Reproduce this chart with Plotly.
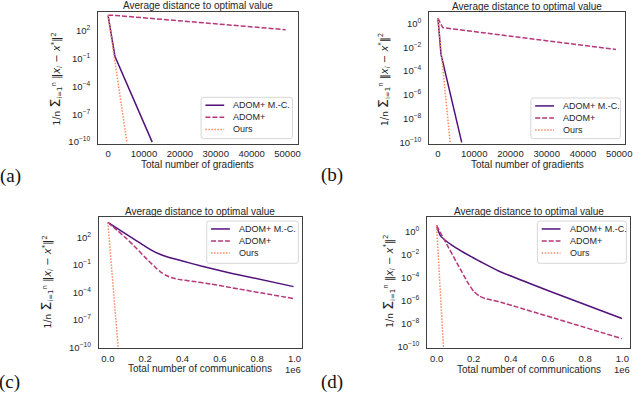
import plotly.graph_objects as go

W, H = 640, 395

# ---------------- data ----------------
series_names = ["ADOM+ M.-C.", "ADOM+", "Ours"]

# (a) gradients
a_mc_x = [0, 1900, 12300]
a_mc_y = [5.0e3, 0.19, 1e-10]
a_adom_x = [0, 1570, 49500]
a_adom_y = [5.0e3, 5.0e3, 140]
a_ours_x = [0, 5240]
a_ours_y = [5.0e3, 1e-10]

# (b) gradients
b_mc_x = [0, 850, 6550]
b_mc_y = [2.8, 2.5e-3, 1e-10]
b_adom_x = [0, 1300, 49100]
b_adom_y = [2.8, 0.45, 6.5e-3]
b_ours_x = [0, 3360]
b_ours_y = [2.8, 1e-10]

# (c) communications
c_mc_x = [0, 50000, 100000, 150000, 200000, 250000, 300000, 350000, 400000,
          500000, 660000, 995000]
c_mc_y = [4.0e3, 891, 200, 44.7, 10, 2.5, 0.955, 0.468, 0.251,
          0.0708, 0.012, 4.07e-4]
c_adom_x = [0, 50000, 100000, 150000, 200000, 250000, 280000, 310000, 340000,
            380000, 450000, 550000, 660000, 995000]
c_adom_y = [4.0e3, 562, 70.8, 7.08, 0.631, 0.063, 0.0178, 7.08e-3, 3.98e-3,
            2.51e-3, 1.58e-3, 7.94e-4, 3.16e-4, 2.04e-5]
c_ours_x = [0, 55000]
c_ours_y = [4.0e3, 1e-10]

# (d) communications
d_mc_x = [0, 21000, 62000, 107000, 151000, 195000, 240000, 337000, 595000, 998000]
d_mc_y = [3.2, 0.4, 0.107, 0.035, 0.0132, 5.4e-3, 2.2e-3, 3.5e-4, 7.9e-6, 2.8e-8]
d_adom_x = [0, 170000, 200000, 230000, 260000, 300000, 346000, 998000]
d_adom_y = [3.2, 3.2e-5, 6.3e-6, 2.5e-6, 1.5e-6, 1.07e-6, 7.1e-7, 5.0e-10]
d_ours_x = [0, 37000]
d_ours_y = [3.2, 1e-10]

grad_ticks = [0, 10000, 20000, 30000, 40000, 50000]
grad_ticktext = ["0", "10000", "20000", "30000", "40000", "50000"]
comm_ticks = [0, 200000, 400000, 600000, 800000, 1000000]
comm_ticktext = ["0.0", "0.2", "0.4", "0.6", "0.8", "1.0"]

ytick_a = [-10, -7, -4, -1, 2]
ytick_b = [-10, -8, -6, -4, -2, 0]

title_text = "Average distance to optimal value"
xlabel_grad = "Total number of gradients"
xlabel_comm = "Total number of communications"
panel_labels = ["(a)", "(b)", "(c)", "(d)"]

# ---------------- style ----------------
colors = ["#51127c", "#b73779", "#fc8961"]
dashes = ["solid", "5px,2px", "1.5px,1.5px"]
SANS = "Liberation Sans, Arial, sans-serif"
TXT = "#262626"
FRAME = "#404040"


def fx(px):
    return px / W


def fy(py):
    return 1 - py / H


panels = [
    dict(key="", xs=[(a_mc_x, a_mc_y), (a_adom_x, a_adom_y), (a_ours_x, a_ours_y)],
         dom_x=(99.3, 301), dom_y=(11.7, 145), xr=[-2750, 52850], yr=[-10.15, 4.1],
         xt=grad_ticks, xtt=grad_ticktext, yt=ytick_a, xlabel=xlabel_grad,
         leg=(203.3, 98.3, 295.7, 140), smooth=False,
         ylab=(56, 80), plab=(11, 178), off=None),
    dict(key="2", xs=[(b_mc_x, b_mc_y), (b_adom_x, b_adom_y), (b_ours_x, b_ours_y)],
         dom_x=(434, 632.3), dom_y=(12.3, 145), xr=[-2400, 51700], yr=[-10.1, 0.95],
         xt=grad_ticks, xtt=grad_ticktext, yt=ytick_b, xlabel=xlabel_grad,
         leg=(536.7, 99, 627.3, 140), smooth=False,
         ylab=(387, 80), plab=(336, 177), off=None),
    dict(key="3", xs=[(c_mc_x, c_mc_y), (c_adom_x, c_adom_y), (c_ours_x, c_ours_y)],
         dom_x=(100, 305.3), dom_y=(219.7, 351.7), xr=[-48000, 1040000], yr=[-10.1, 4.15],
         xt=comm_ticks, xtt=comm_ticktext, yt=ytick_a, xlabel=xlabel_comm,
         leg=(209, 223.3, 301.7, 266), smooth=True,
         ylab=(47, 285), plab=(10, 386), off=(296, 372)),
    dict(key="4", xs=[(d_mc_x, d_mc_y), (d_adom_x, d_adom_y), (d_ours_x, d_ours_y)],
         dom_x=(432, 637.3), dom_y=(219.7, 352), xr=[-50000, 1043000], yr=[-10.15, 1.2],
         xt=comm_ticks, xtt=comm_ticktext, yt=ytick_b, xlabel=xlabel_comm,
         leg=(543.3, 223.3, 633.3, 266), smooth=True,
         ylab=(392, 284), plab=(336, 386), off=(629, 372)),
]

fig = go.Figure()
annotations = []
shapes = []
layout = dict(
    width=W, height=H, margin=dict(l=0, r=0, t=0, b=0),
    paper_bgcolor="white", plot_bgcolor="white", showlegend=False,
    font=dict(family=SANS, size=10, color=TXT),
)

ylabel = ("<span style='font-size:9px'>1</span>/<span style='font-size:9px'>n</span> "
          "<span style='font-size:14px'>Σ</span><sub>i=1</sub><sup>n</sup> "
          "‖<i>x<sub>i</sub></i> − <i>x</i><sup>*</sup>‖<sup>2</sup>")


def rounded_box(x0, y0, x1, y1, r=2.5):
    pts = [
        ("M", x0 + r, y0), ("L", x1 - r, y0), ("Q", x1, y0, x1, y0 + r),
        ("L", x1, y1 - r), ("Q", x1, y1, x1 - r, y1), ("L", x0 + r, y1),
        ("Q", x0, y1, x0, y1 - r), ("L", x0, y0 + r), ("Q", x0, y0, x0 + r, y0),
    ]
    parts = []
    for p in pts:
        coords = p[1:]
        s = ["%.5f,%.5f" % (fx(coords[k]), fy(coords[k + 1])) for k in range(0, len(coords), 2)]
        parts.append(p[0] + " " + " ".join(s))
    return " ".join(parts) + " Z"


for i, p in enumerate(panels):
    k = p["key"]
    for j, (xv, yv) in enumerate(p["xs"]):
        shape = "spline" if (p["smooth"] and len(xv) > 2) else "linear"
        fig.add_trace(go.Scatter(
            x=xv, y=yv, mode="lines", name=series_names[j],
            line=dict(color=colors[j], width=1.5, dash=dashes[j], shape=shape, smoothing=0.5),
            xaxis="x" + k, yaxis="y" + k, showlegend=False,
        ))
    layout["xaxis" + k] = dict(
        domain=[fx(p["dom_x"][0]), fx(p["dom_x"][1])], anchor="y" + k,
        range=p["xr"], tickvals=p["xt"], ticktext=p["xtt"],
        showline=True, mirror=True, linecolor=FRAME, linewidth=1.2,
        showgrid=False, zeroline=False, ticks="", ticklabelstandoff=1,
        tickfont=dict(family=SANS, size=9.5, color=TXT),
    )
    layout["yaxis" + k] = dict(
        domain=[fy(p["dom_y"][1]), fy(p["dom_y"][0])], anchor="x" + k,
        type="log", range=p["yr"],
        tickvals=[10.0 ** e for e in p["yt"]],
        ticktext=["10<sup>%s</sup>" % (str(e).replace("-", "−")) for e in p["yt"]],
        showline=True, mirror=True, linecolor=FRAME, linewidth=1.2,
        showgrid=False, zeroline=False, ticks="", ticklabelstandoff=5,
        tickfont=dict(family=SANS, size=9.5, color=TXT),
    )
    # framed key inside the axes
    lx0, ly0, lx1, ly1 = p["leg"]
    shapes.append(dict(type="path", path=rounded_box(lx0, ly0, lx1, ly1),
                       xref="paper", yref="paper", fillcolor="white",
                       line=dict(color="#d3d3d3", width=0.9), layer="above"))
    for j in range(3):
        ry = ly0 + 8 + j * 12.2
        shapes.append(dict(type="line", xref="paper", yref="paper",
                           x0=fx(lx0 + 4.4), x1=fx(lx0 + 23.4), y0=fy(ry), y1=fy(ry),
                           line=dict(color=colors[j], width=1.5, dash=dashes[j]),
                           layer="above"))
        annotations.append(dict(text=series_names[j], x=fx(lx0 + 30.5), y=fy(ry),
                                xref="paper", yref="paper", xanchor="left", yanchor="middle",
                                showarrow=False, font=dict(family=SANS, size=9, color=TXT)))
    cx = (p["dom_x"][0] + p["dom_x"][1]) / 2
    annotations.append(dict(text=title_text, x=fx(cx), y=fy(p["dom_y"][0] - 6.2),
                            xref="paper", yref="paper", xanchor="center", yanchor="middle",
                            showarrow=False, font=dict(family=SANS, size=10, color=TXT)))
    annotations.append(dict(text=p["xlabel"], x=fx(cx), y=fy(p["dom_y"][1] + 21),
                            xref="paper", yref="paper", xanchor="center", yanchor="middle",
                            showarrow=False, font=dict(family=SANS, size=10, color=TXT)))
    annotations.append(dict(text=ylabel, x=fx(p["ylab"][0]), y=fy(p["ylab"][1]),
                            xref="paper", yref="paper", xanchor="center", yanchor="middle",
                            textangle=-90, showarrow=False,
                            font=dict(family="DejaVu Sans", size=10, color=TXT)))
    annotations.append(dict(text=panel_labels[i], x=fx(p["plab"][0]), y=fy(p["plab"][1]),
                            xref="paper", yref="paper", xanchor="center", yanchor="middle",
                            showarrow=False,
                            font=dict(family="Liberation Serif, DejaVu Serif, serif", size=19, color="#111")))
    if p["off"]:
        annotations.append(dict(text="1e6", x=fx(p["off"][0]), y=fy(p["off"][1] + 1),
                                xref="paper", yref="paper", xanchor="center", yanchor="middle",
                                showarrow=False, font=dict(family=SANS, size=9.5, color=TXT)))

layout["annotations"] = annotations
layout["shapes"] = shapes
fig.update_layout(**layout)
fig.write_html("out.html", config={"displayModeBar": False},
               post_script="document.body.style.margin='0px';")
